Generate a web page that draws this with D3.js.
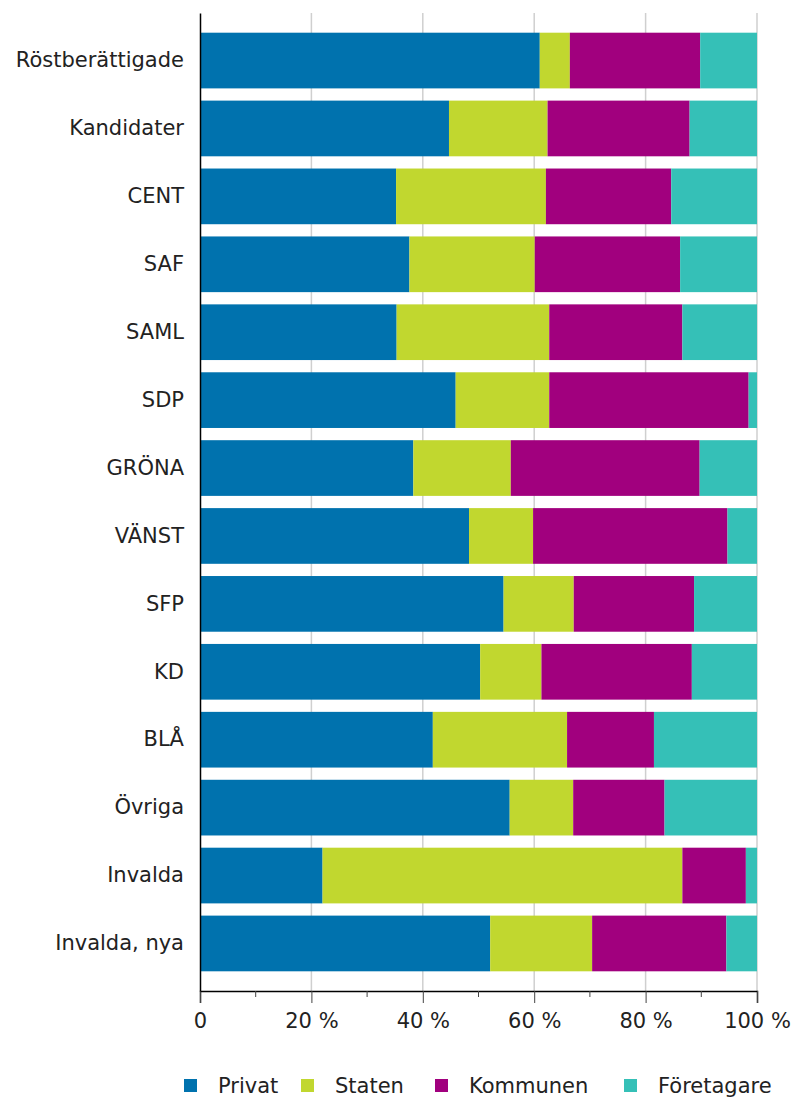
<!DOCTYPE html>
<html>
<head>
<meta charset="utf-8">
<script src="https://cdn.jsdelivr.net/npm/d3@7"></script>
<style>
  body { margin: 0; background: #fff; }
  svg text { font-family: "DejaVu Sans", Verdana, sans-serif; fill: #222; }
</style>
</head>
<body>
<div id="chart"></div>
<script>
// categories (top to bottom)
var categories = ["Röstberättigade", "Kandidater", "CENT", "SAF", "SAML", "SDP", "GRÖNA",
                  "VÄNST", "SFP", "KD", "BLÅ", "Övriga", "Invalda", "Invalda, nya"];

// series values, % per category
var privat     = [61.0, 44.7, 35.2, 37.6, 35.3, 45.9, 38.3, 48.3, 54.5, 50.3, 41.8, 55.6, 22.0, 52.1];
var staten     = [ 5.4, 17.7, 26.9, 22.5, 27.4, 16.8, 17.5, 11.5, 12.6, 11.0, 24.1, 11.4, 64.6, 18.3];
var kommunen   = [23.4, 25.5, 22.5, 26.1, 23.9, 35.8, 33.9, 34.9, 21.6, 27.0, 15.6, 16.4, 11.4, 24.1];
var foretagare = [10.2, 12.1, 15.4, 13.8, 13.4,  1.5, 10.3,  5.3, 11.3, 11.7, 18.5, 16.6,  2.0,  5.5];

var seriesNames = ["Privat", "Staten", "Kommunen", "Företagare"];
var seriesColors = ["#0072ae", "#c1d72f", "#a1007e", "#35c0b7"];
var tickValues = [0, 20, 40, 60, 80, 100];
var tickLabels = ["0", "20 %", "40 %", "60 %", "80 %", "100 %"];

// build a table for d3.stack
var table = categories.map(function(c, i) {
  return { cat: c, Privat: privat[i], Staten: staten[i], Kommunen: kommunen[i], "Företagare": foretagare[i] };
});

var margin = {top: 13, right: 35, bottom: 106, left: 200},
    width = 792 - margin.left - margin.right,
    height = 1097 - margin.top - margin.bottom;

var svg = d3.select("#chart")
  .append("svg")
    .attr("width", 792)
    .attr("height", 1097)
  .append("g")
    .attr("transform", "translate(" + margin.left + "," + margin.top + ")");

var x = d3.scaleLinear()
  .domain([0, 100])
  .range([0, 557]);

var y = d3.scaleBand()
  .domain(categories)
  .range([0, height])
  .paddingInner(0.18)
  .paddingOuter(0.29);

var color = d3.scaleOrdinal().domain(seriesNames).range(seriesColors);

// grid lines
svg.append("g")
  .selectAll("line")
  .data(tickValues.slice(1))
  .enter()
  .append("line")
    .attr("x1", function(d) { return x(d); })
    .attr("x2", function(d) { return x(d); })
    .attr("y1", 0)
    .attr("y2", height)
    .attr("stroke", "#cfcfcf")
    .attr("stroke-width", 1.5);

// stacked bars
var stacked = d3.stack().keys(seriesNames)(table);

svg.append("g")
  .selectAll("g")
  .data(stacked)
  .enter()
  .append("g")
    .attr("fill", function(d) { return color(d.key); })
  .selectAll("rect")
  .data(function(d) { return d; })
  .enter()
  .append("rect")
    .attr("x", function(d) { return x(d[0]); })
    .attr("y", function(d) { return y(d.data.cat); })
    .attr("width", function(d) { return x(d[1]) - x(d[0]); })
    .attr("height", y.bandwidth());

// X axis: major ticks
var xAxis = svg.append("g")
  .attr("transform", "translate(0," + height + ")")
  .call(d3.axisBottom(x)
    .tickValues(tickValues)
    .tickSize(12)
    .tickPadding(10)
    .tickFormat(function(d, i) { return tickLabels[i]; }));
xAxis.select(".domain").attr("stroke", "#000").attr("stroke-width", 1.5);
xAxis.selectAll(".tick line").attr("stroke", "#444");
xAxis.selectAll("text")
  .style("font-size", "21px")
  .attr("fill", "#222");

// minor ticks
svg.append("g")
  .attr("transform", "translate(0," + height + ")")
  .selectAll("line")
  .data([10, 30, 50, 70, 90])
  .enter()
  .append("line")
    .attr("x1", function(d) { return x(d); })
    .attr("x2", function(d) { return x(d); })
    .attr("y1", 0)
    .attr("y2", 6)
    .attr("stroke", "#444");

// Y axis
var yAxis = svg.append("g")
  .call(d3.axisLeft(y).tickSize(0).tickPadding(16).tickSizeOuter(0));
yAxis.select(".domain").attr("stroke", "#000").attr("stroke-width", 1.5);
yAxis.selectAll("text")
  .style("font-size", "21px")
  .attr("fill", "#222");

// legend
var legendX = [184, 301, 435, 624];
var legend = d3.select("svg").append("g")
  .attr("transform", "translate(0,1086)");
var items = legend.selectAll("g")
  .data(seriesNames)
  .enter()
  .append("g")
    .attr("transform", function(d, i) { return "translate(" + legendX[i] + ",0)"; });
items.append("rect")
  .attr("x", 0)
  .attr("y", -7)
  .attr("width", 13)
  .attr("height", 13)
  .attr("fill", function(d) { return color(d); });
items.append("text")
  .attr("x", 34)
  .attr("dy", "0.35em")
  .style("font-size", "21px")
  .text(function(d) { return d; });
</script>
</body>
</html>
